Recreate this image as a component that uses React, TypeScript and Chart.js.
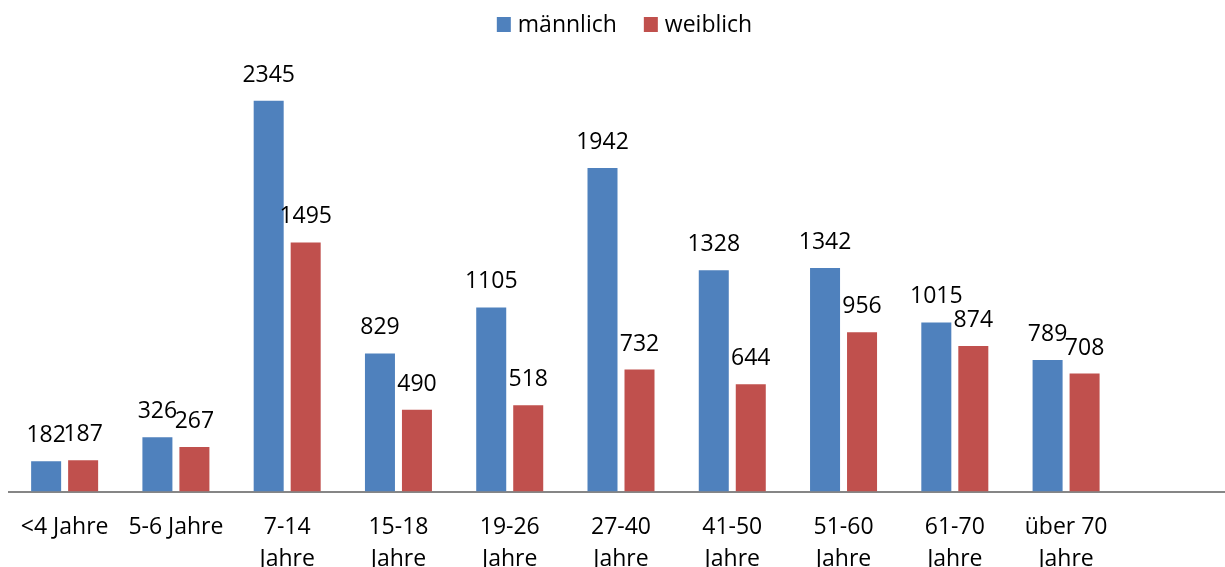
import React, { useEffect, useRef } from 'react';
import { Chart, registerables } from 'chart.js';

Chart.register(...registerables);

// ---- data ----
const categories: (string | string[])[] = [
  '<4 Jahre',
  '5-6 Jahre',
  ['7-14', 'Jahre'],
  ['15-18', 'Jahre'],
  ['19-26', 'Jahre'],
  ['27-40', 'Jahre'],
  ['41-50', 'Jahre'],
  ['51-60', 'Jahre'],
  ['61-70', 'Jahre'],
  ['über 70', 'Jahre'],
  '',
];
const maleValues: (number | null)[] = [182, 326, 2345, 829, 1105, 1942, 1328, 1342, 1015, 789, null];
const femaleValues: (number | null)[] = [187, 267, 1495, 490, 518, 732, 644, 956, 874, 708, null];
const seriesNames = ['männlich', 'weiblich'];
const seriesColors = ['#4F81BD', '#C0504D'];
const yMin = 0;
const yMax = 2500;

const FONT_FAMILY = '"Open Sans", "Noto Sans", sans-serif';
const FONT_SIZE = 23;
const FONT = `${FONT_SIZE}px ${FONT_FAMILY}`;

const valueLabelPlugin = {
  id: 'valueLabels',
  afterDatasetsDraw(chart: any) {
    const ctx = chart.ctx;
    ctx.save();
    ctx.font = FONT;
    ctx.fillStyle = '#000000';
    ctx.textAlign = 'center';
    ctx.textBaseline = 'alphabetic';
    chart.data.datasets.forEach((ds: any, i: number) => {
      const meta = chart.getDatasetMeta(i);
      meta.data.forEach((el: any, j: number) => {
        const v = ds.data[j];
        if (v === null || v === undefined) return;
        ctx.fillText(String(v), el.x, el.y - 19);
      });
    });
    ctx.restore();
  },
};

// category labels under the axis, positioned through the x scale
const categoryLabelPlugin = {
  id: 'categoryLabels',
  afterDraw(chart: any) {
    const ctx = chart.ctx;
    const xScale = chart.scales.x;
    const bottom = chart.chartArea.bottom;
    ctx.save();
    ctx.font = FONT;
    ctx.fillStyle = '#000000';
    ctx.textAlign = 'center';
    ctx.textBaseline = 'alphabetic';
    (chart.data.labels as any[]).forEach((lab: any, i: number) => {
      const lines = Array.isArray(lab) ? lab : [lab];
      const x = xScale.getPixelForValue(i);
      lines.forEach((ln: string, k: number) => {
        ctx.fillText(ln, x, bottom + 42.5 + k * 32);
      });
    });
    ctx.restore();
  },
};

const customLegendPlugin = {
  id: 'customLegend',
  afterDraw(chart: any) {
    const ctx = chart.ctx;
    ctx.save();
    ctx.font = FONT;
    const boxW = 14;
    const boxH = 15;
    const boxGap = 7;
    const itemGap = 27;
    const items = chart.data.datasets.map((ds: any) => ({
      text: ds.label,
      color: ds.backgroundColor,
      w: ctx.measureText(ds.label).width,
    }));
    let total = 0;
    items.forEach((it: any, i: number) => {
      total += boxW + boxGap + it.w + (i < items.length - 1 ? itemGap : 0);
    });
    let x = chart.width / 2 - total / 2;
    const baseline = 32;
    items.forEach((it: any) => {
      ctx.fillStyle = it.color;
      ctx.fillRect(x, baseline - boxH, boxW, boxH);
      x += boxW + boxGap;
      ctx.fillStyle = '#000000';
      ctx.textAlign = 'left';
      ctx.textBaseline = 'alphabetic';
      ctx.fillText(it.text, x, baseline);
      x += it.w + itemGap;
    });
    ctx.restore();
  },
};

export default function App() {
  const canvasRef = useRef<HTMLCanvasElement | null>(null);

  useEffect(() => {
    if (!canvasRef.current) return;
    const chart = new Chart(canvasRef.current, {
      type: 'bar',
      data: {
        labels: categories,
        datasets: [
          {
            label: seriesNames[0],
            data: maleValues,
            backgroundColor: seriesColors[0],
            borderWidth: 0,
            categoryPercentage: 0.665,
            barPercentage: 0.811,
          },
          {
            label: seriesNames[1],
            data: femaleValues,
            backgroundColor: seriesColors[1],
            borderWidth: 0,
            categoryPercentage: 0.665,
            barPercentage: 0.811,
          },
        ],
      },
      options: {
        animation: false,
        responsive: true,
        maintainAspectRatio: false,
        layout: {
          padding: { left: 9, right: 16, top: 75, bottom: 75.5 },
        },
        plugins: {
          legend: { display: false },
          tooltip: { enabled: false },
          title: { display: false },
        },
        scales: {
          x: {
            grid: { display: false, drawTicks: false },
            border: { display: true, color: '#868686', width: 2 },
            ticks: { display: false },
          },
          y: {
            display: false,
            min: yMin,
            max: yMax,
          },
        },
      },
      plugins: [valueLabelPlugin, categoryLabelPlugin, customLegendPlugin],
    });
    return () => chart.destroy();
  }, []);

  return (
    <div
      style={{
        position: 'fixed',
        left: 0,
        top: 0,
        width: 1225,
        height: 567,
        overflow: 'hidden',
        background: '#ffffff',
      }}
    >
      <div style={{ position: 'relative', width: 1249, height: 567 }}>
        <canvas ref={canvasRef} />
      </div>
    </div>
  );
}
